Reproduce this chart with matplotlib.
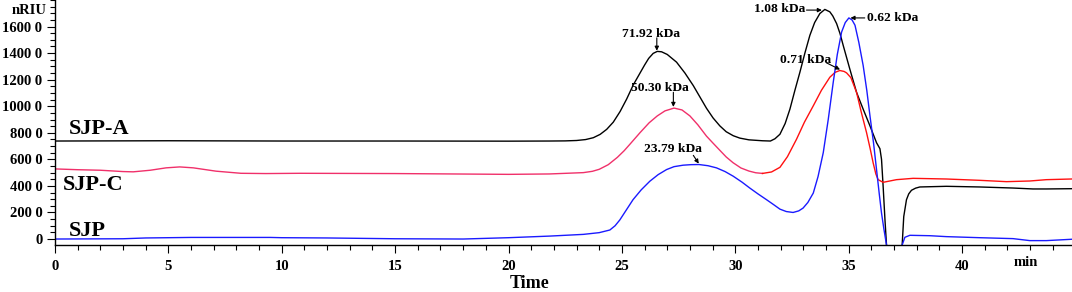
import matplotlib
matplotlib.use("Agg")
import matplotlib.pyplot as plt
import numpy as np

# SJP-A (black)
t_a = [0, 5, 10, 15, 20, 21.8, 22.5, 23.0, 23.4, 23.74, 24.04, 24.33, 24.62, 24.92, 25.21, 25.5,
       25.8, 26.0, 26.18, 26.38, 26.56, 26.75, 27.0, 27.41, 27.78, 28.15, 28.44, 28.73, 29.02,
       29.32, 29.6, 29.91, 30.2, 30.6, 31.2, 31.55, 31.75, 31.97,
       32.2, 32.41, 32.63, 32.85, 33.07, 33.29, 33.5, 33.73, 33.95, 34.17, 34.3, 34.47, 34.62,
       34.76, 35.05, 35.35, 35.64, 35.94, 36.23, 36.38, 36.45, 36.52, 36.60, 36.67,
       36.75, 37.3, 37.36, 37.43, 37.55, 37.65, 37.77, 37.95, 38.14, 39.31, 40.78, 42.25,
       43.13, 43.72, 44.82]
v_a = [738, 740, 738, 738, 737, 738, 739, 742, 749, 763, 788, 826, 880, 960, 1054, 1160,
       1250, 1310, 1360, 1398, 1413, 1410, 1390, 1332, 1250, 1155, 1070, 985, 912,
       852, 808, 778, 760, 747, 740, 738, 755, 789,
       870, 978, 1120, 1256, 1400, 1534, 1630, 1698, 1729, 1711, 1680, 1622, 1547,
       1458, 1281, 1104, 978, 852, 725, 680, 600, 400, 150, -45,
       -300, -300, -45, 169, 296, 340, 367, 383, 392, 397, 392, 384,
       377, 377, 379]

# SJP-C (red)
t_c = [0, 1, 2, 3, 3.45, 4.2, 4.9, 5.5, 6.1, 7.1, 8.2, 9.3, 10.8, 15, 20, 21.8, 23.3, 23.7,
       24.0, 24.4, 24.8, 25.1, 25.36, 25.8, 26.2, 26.56, 26.9, 27.3, 27.65, 28.0, 28.35, 28.73,
       29.02, 29.32, 29.6, 29.9, 30.25, 30.6, 30.9, 31.2, 31.6, 31.97, 32.3, 32.7, 33.05, 33.44,
       33.8, 34.17, 34.4, 34.61, 34.8, 34.91, 35.1, 35.35, 35.55, 35.79, 35.95, 36.08, 36.2,
       36.3, 36.52, 37.11, 37.84, 39.31, 40.78, 41.96, 42.99, 43.72, 44.82]
v_c = [528, 522, 518, 508, 506, 518, 536, 543, 536, 511, 495, 493, 495, 493, 487, 490, 500, 510,
       525, 560, 615, 665, 715, 801, 875, 927, 965, 986, 972, 927, 860, 775,
       722, 668, 618, 575, 535, 512, 499, 494, 505, 540, 620, 751, 880, 1003,
       1120, 1218, 1255, 1269, 1262, 1251, 1215, 1104, 960, 801, 680, 574, 490,
       447, 427, 447, 457, 452, 442, 432, 437, 447, 452]
c_split = 39  # index of the valley at 31.2 min, colour changes there

# SJP (blue)
t_s = [0, 3, 4, 6, 9.5, 10, 12, 15, 18, 20, 21.8, 22.5, 23.3, 24.0, 24.47, 24.7, 24.91, 25.2,
       25.49, 25.85, 26.23, 26.6, 26.97, 27.3, 27.7, 28.05, 28.4, 28.8, 29.17, 29.55, 29.91,
       30.3, 30.64, 31.0, 31.38, 31.7, 31.97, 32.25, 32.55, 32.8, 32.99, 33.2, 33.44, 33.65,
       33.88, 34.1, 34.32, 34.5, 34.69, 34.85, 35.01, 35.15, 35.28, 35.45, 35.64, 35.8, 35.94,
       36.1, 36.23, 36.35, 36.45, 36.55, 36.67, 36.8, 37.3, 37.36, 37.48, 37.7, 38.58, 39.31,
       40.78, 42.25, 42.99, 43.72, 44.82]
v_s = [0, 2, 8, 12, 12, 10, 8, 2, 0, 10, 22, 28, 35, 48, 68, 100, 144, 220,
       296, 370, 435, 485, 523, 545, 556, 560, 561, 552, 536, 508, 473,
       428, 384, 340, 296, 258, 225, 207, 200, 212, 233, 275, 346, 470,
       650, 900, 1180, 1390, 1559, 1630, 1665, 1650, 1610, 1480, 1307, 1120, 928,
       720, 523, 340, 195, 80, -45, -300, -300, -45, 13, 28, 25, 18,
       10, 3, -12, -12, -2]

# peak labels: text, text position, arrow tail, arrow head
peak_labels = ["71.92 kDa", "50.30 kDa", "23.79 kDa", "1.08 kDa", "0.71 kDa", "0.62 kDa"]
label_xy = [(26.27, 1525), (26.68, 1117), (27.26, 654), (31.94, 1706), (33.12, 1327), (36.93, 1640)]
arrow_from = [(26.54, 1515), (27.27, 1105), (28.15, 630), (33.14, 1724), (34.02, 1327), (35.71, 1665)]
arrow_to = [(26.54, 1418), (27.27, 995), (28.39, 568), (33.82, 1724), (34.62, 1276), (35.08, 1665)]

series_names = ["SJP-A", "SJP-C", "SJP"]
name_xy = [(0.6, 788), (0.35, 371), (0.6, 22)]

yticks = [0, 200, 400, 600, 800, 1000, 1200, 1400, 1600]
ytick_labels = ["0"] + [str(v) + " 0" for v in yticks[1:]]
xticks = [0, 5, 10, 15, 20, 25, 30, 35, 40]

plt.rcParams['font.family'] = ['Liberation Serif', 'DejaVu Serif']
plt.rcParams['font.weight'] = 'bold'

fig = plt.figure(figsize=(10.72, 2.92), dpi=100)
ax = fig.add_axes([55 / 1072, 47 / 292, 1 - 55 / 1072, 245 / 292])

lw = 1.0
ax.plot(t_a, v_a, color='black', lw=lw)
ax.plot(t_c[:c_split + 1], v_c[:c_split + 1], color='#f0306a', lw=lw)
ax.plot(t_c[c_split:], v_c[c_split:], color='#ff1010', lw=lw)
ax.plot(t_s, v_s, color='#1a1aff', lw=lw)

ax.set_xlim(0, 44.85)
ax.set_ylim(-45, 1800)

for txt, pos, a0, a1 in zip(peak_labels, label_xy, arrow_from, arrow_to):
    ax.text(pos[0], pos[1], txt, ha='center', va='baseline', fontsize=9.7, fontweight='bold')
    ax.annotate('', xy=a1, xytext=a0,
                arrowprops=dict(arrowstyle='-|>', color='black', lw=0.8,
                                mutation_scale=6, shrinkA=0, shrinkB=0))

for name, pos in zip(series_names, name_xy):
    ax.text(pos[0], pos[1], name, ha='left', va='baseline', fontsize=16, fontweight='bold')

ax.spines['top'].set_visible(False)
ax.spines['right'].set_visible(False)
ax.spines['left'].set_linewidth(1.0)
ax.spines['bottom'].set_linewidth(1.0)

ax.set_xticks(xticks)
ax.set_xticks(np.arange(0, 45, 1), minor=True)
ax.set_yticks(yticks)
ax.set_yticklabels(ytick_labels)
ax.set_yticks(np.arange(0, 1801, 50), minor=True)
ax.tick_params(axis='both', which='major', length=6, width=0.8, labelsize=10.5)
ax.tick_params(axis='both', which='minor', length=3.5, width=0.8)
ax.tick_params(axis='y', which='major', pad=3)
ax.tick_params(axis='x', which='major', pad=5)

fig.text(47 / 1072, 1 - 11 / 292, "nRIU", ha='right', va='center', fontsize=10.5, fontweight='bold')
fig.text(1026 / 1072, 1 - 263 / 292, "min", ha='center', va='center', fontsize=10.5, fontweight='bold')
fig.text(530 / 1072, 1 - 283 / 292, "Time", ha='center', va='center', fontsize=13, fontweight='bold')

fig.savefig("out.png", dpi=100)
